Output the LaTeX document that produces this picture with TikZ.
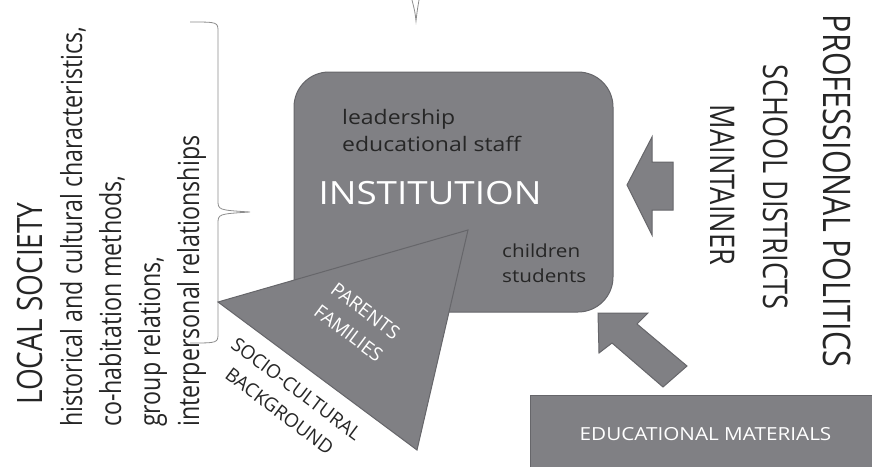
\documentclass[tikz,border=0pt]{standalone}
\usepackage{fontspec}
\setmainfont{Open Sans}
\newfontfamily\vfont[FakeStretch=0.8]{Open Sans}
\newfontfamily\hfont[FakeStretch=1.15]{Open Sans}
\definecolor{boxgray}{RGB}{128,128,132}
\definecolor{edgegray}{RGB}{102,102,106}
\definecolor{inkgray}{RGB}{38,38,38}
\definecolor{bracegray}{RGB}{140,140,140}

\begin{document}
\begin{tikzpicture}[x = 1pt, y = -1pt,
        block/.style = {fill = boxgray, draw = edgegray, line width = 1pt},
        uptext/.style = {rotate = 90, anchor = base west, inner sep = 0pt, text = inkgray},
        downtext/.style = {rotate = -90, anchor = base, inner sep = 0pt, text = inkgray},
        flat/.style = {anchor = base west, inner sep = 0pt, text = inkgray}]
        \useasboundingbox (0,0) rectangle (872,466);

        % local society
        \node (local) [uptext, font = \vfont\fontsize{35}{40}\selectfont] at (42, 405) {LOCAL SOCIETY};
        \foreach \t [count = \i] in {{historical and cultural characteristics,}, {co-habitation methods,}, {group relations,}, {interpersonal relationships}}
        {
            \node (society\i) [uptext, font = \vfont\fontsize{29}{35}\selectfont] at (43 + 39*\i, 427) {\t};
        }
        \draw [bracegray, line width = 0.8pt] (190, 22) .. controls (218, 22) .. (218, 32) -- (218, 200)
            .. controls (218, 210) .. (250, 212) .. controls (218, 214) .. (218, 224) -- (218, 333)
            .. controls (218, 343) .. (190, 343);
        \draw [bracegray, line width = 0.8pt] (412, 0) .. controls (415, 12) .. (416, 21) .. controls (417, 12) .. (419, 0);

        % institution
        \node (institution) [block, rounded corners = 35pt, minimum width = 319pt, minimum height = 240pt, inner sep = 0pt] at (453.5, 192) {};
        \node (leadership) [flat, font = \hfont\fontsize{20}{27}\selectfont] at (342, 124) {leadership};
        \node (staff) [flat, font = \hfont\fontsize{20}{27}\selectfont] at (342, 151) {educational staff};
        \node (title) [anchor = base, inner sep = 0pt, text = white, font = \hfont\fontsize{32}{38}\selectfont] at (430, 204) {INSTITUTION};
        \node (children) [flat, font = \hfont\fontsize{18}{24}\selectfont] at (502, 257) {children};
        \node (students) [flat, font = \hfont\fontsize{18}{24}\selectfont] at (502, 282) {students};

        % parents
        \coordinate (pleft) at (218, 302);
        \coordinate (ptop) at (468, 230);
        \coordinate (pbottom) at (417, 450);
        \draw [block] (pleft) -- (ptop) -- (pbottom) -- cycle;
        \node (parents) [rotate = -37, align = center, inner sep = 0pt, text = white, font = \fontsize{19}{28}\selectfont] at (357, 322) {PARENTS\\FAMILIES};
        \node (background) [rotate = -37, align = center, inner sep = 0pt, text = inkgray, font = \fontsize{19}{28}\selectfont] at (288, 400) {SOCIO-CULTURAL\\BACKGROUND};

        % politics
        \node (politics) [downtext, font = \vfont\fontsize{38}{44}\selectfont] at (823, 191) {PROFESSIONAL POLITICS};
        \node (districts) [downtext, font = \vfont\fontsize{34}{40}\selectfont] at (763, 187) {SCHOOL DISTRICTS};
        \node (maintainer) [downtext, font = \vfont\fontsize{34}{40}\selectfont] at (710, 185) {MAINTAINER};
        \draw [block] (627, 185) -- (652, 137) -- (652, 162) -- (673, 162) -- (673, 210) -- (652, 210) -- (652, 235) -- cycle;

        % materials
        \node (materials) [block, anchor = north west, minimum width = 350pt, minimum height = 78pt, text = white, font = \hfont\fontsize{18}{24}\selectfont] at (530, 395) {EDUCATIONAL MATERIALS};
        \draw [block] (598, 313) -- (648, 313) -- (637, 324) -- (687, 366) -- (663, 387) -- (612, 343) -- (599, 353) -- cycle;
    \end{tikzpicture}
\end{document}
